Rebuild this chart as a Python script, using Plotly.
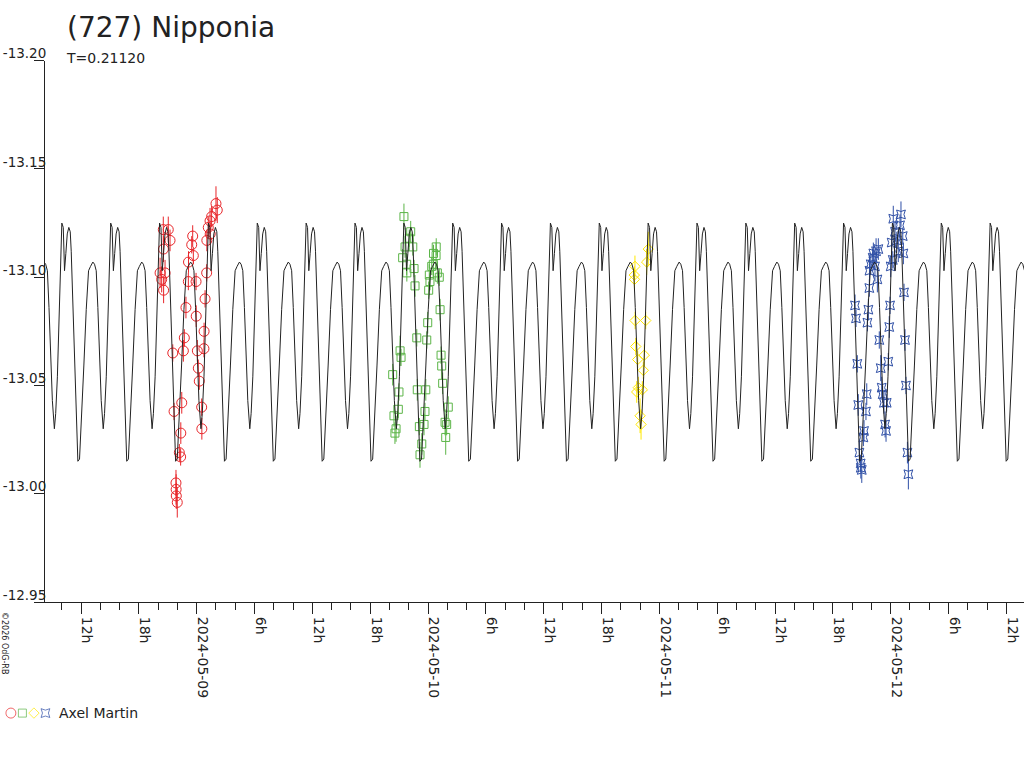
import numpy as np
import pandas as pd
import plotly.graph_objects as go

# --- model curve: one rotation cycle, repeated with period T ---
period_days = 0.21120
epoch = "2024-05-09 06:17"          # time of the main maximum of the curve
curve_phase = [0.000, 0.029, 0.055, 0.082, 0.111, 0.143, 0.172, 0.192, 0.225, 0.260,
               0.295, 0.328, 0.362, 0.397, 0.450, 0.499, 0.547, 0.587, 0.635, 0.669,
               0.704, 0.737, 0.772, 0.806, 0.847, 0.874, 0.909, 0.942, 0.976]
curve_mag = [-13.125, -13.123, -13.103, -13.111, -13.120, -13.123, -13.121, -13.112, -13.089, -13.059,
             -13.031, -13.015, -13.016, -13.031, -13.059, -13.085, -13.103, -13.105, -13.107, -13.106,
             -13.103, -13.086, -13.063, -13.043, -13.030, -13.037, -13.054, -13.077, -13.105]

# --- observations (Axel Martin), four nights ---
red_t = ["2024-05-08 20:32", "2024-05-08 21:03", "2024-05-08 21:14", "2024-05-08 20:33", "2024-05-08 20:12",
         "2024-05-08 20:43", "2024-05-08 20:22", "2024-05-08 20:34", "2024-05-08 21:31", "2024-05-08 21:39",
         "2024-05-08 22:12", "2024-05-08 22:20", "2024-05-08 21:51", "2024-05-08 21:52", "2024-05-08 21:53",
         "2024-05-08 21:59", "2024-05-08 22:21", "2024-05-08 22:27", "2024-05-08 22:37", "2024-05-08 22:43",
         "2024-05-08 22:53", "2024-05-08 23:08", "2024-05-08 23:09", "2024-05-08 23:29", "2024-05-08 23:35",
         "2024-05-08 23:56", "2024-05-08 23:57", "2024-05-09 00:04", "2024-05-09 00:10", "2024-05-09 00:16",
         "2024-05-09 00:31", "2024-05-09 00:32", "2024-05-09 00:45", "2024-05-09 00:46", "2024-05-09 00:52",
         "2024-05-09 01:02", "2024-05-09 01:03", "2024-05-09 01:12", "2024-05-09 01:23", "2024-05-09 01:33",
         "2024-05-09 02:00", "2024-05-09 02:08", "2024-05-09 01:24", "2024-05-08 23:39"]
red_mag = [-13.122, -13.122, -13.117, -13.113, -13.102, -13.102, -13.099, -13.094, -13.065, -13.038,
           -13.019, -13.017, -13.005, -13.002, -12.999, -12.996, -13.028, -13.042, -13.066, -13.072,
           -13.086, -13.098, -13.107, -13.115, -13.119, -13.098, -13.082, -13.066, -13.058, -13.052,
           -13.040, -13.030, -13.067, -13.075, -13.090, -13.102, -13.117, -13.123, -13.126, -13.128,
           -13.134, -13.131, -13.120, -13.110]
red_err = [0.006, 0.006, 0.005, 0.006, 0.007, 0.006, 0.006, 0.006, 0.004, 0.004,
           0.004, 0.004, 0.006, 0.007, 0.006, 0.007, 0.005, 0.005, 0.005, 0.004,
           0.005, 0.004, 0.005, 0.004, 0.005, 0.004, 0.005, 0.005, 0.004, 0.004,
           0.004, 0.005, 0.004, 0.004, 0.004, 0.004, 0.005, 0.005, 0.006, 0.005,
           0.008, 0.006, 0.005, 0.004]

green_t = ["2024-05-09 21:30", "2024-05-09 22:12", "2024-05-09 22:03", "2024-05-09 21:37", "2024-05-09 22:25",
           "2024-05-09 21:22", "2024-05-09 21:47", "2024-05-09 22:33", "2024-05-09 21:48", "2024-05-09 22:39",
           "2024-05-09 21:06", "2024-05-09 21:12", "2024-05-09 20:20", "2024-05-09 20:59", "2024-05-09 20:55",
           "2024-05-09 20:28", "2024-05-09 20:41", "2024-05-09 20:34", "2024-05-09 22:50", "2024-05-09 22:53",
           "2024-05-09 23:06", "2024-05-09 23:21", "2024-05-09 23:10", "2024-05-09 23:35", "2024-05-09 23:41",
           "2024-05-09 23:46", "2024-05-09 23:52", "2024-05-09 23:58", "2024-05-10 00:04", "2024-05-10 00:12",
           "2024-05-10 00:08", "2024-05-10 00:23", "2024-05-10 00:33", "2024-05-10 00:50", "2024-05-10 00:51",
           "2024-05-10 01:10", "2024-05-10 01:15", "2024-05-10 01:21", "2024-05-10 01:25", "2024-05-10 01:31",
           "2024-05-10 02:06", "2024-05-10 01:46", "2024-05-10 01:56", "2024-05-10 01:50", "2024-05-10 00:34",
           "2024-05-10 00:58"]
green_mag = [-13.128, -13.121, -13.118, -13.114, -13.114, -13.109, -13.106, -13.104, -13.102, -13.096,
             -13.066, -13.063, -13.055, -13.047, -13.039, -13.036, -13.030, -13.028, -13.072, -13.048,
             -13.031, -13.023, -13.018, -13.032, -13.038, -13.048, -13.071, -13.079, -13.094, -13.098,
             -13.101, -13.105, -13.106, -13.110, -13.114, -13.100, -13.085, -13.064, -13.059, -13.051,
             -13.040, -13.033, -13.032, -13.026, -13.111, -13.102]
green_err = [0.006, 0.005, 0.004, 0.005, 0.004, 0.004, 0.005, 0.004, 0.004, 0.005,
             0.007, 0.004, 0.005, 0.004, 0.004, 0.005, 0.006, 0.005, 0.004, 0.005,
             0.004, 0.005, 0.006, 0.005, 0.004, 0.005, 0.004, 0.005, 0.004, 0.004,
             0.005, 0.004, 0.005, 0.006, 0.004, 0.004, 0.005, 0.004, 0.006, 0.005,
             0.005, 0.006, 0.005, 0.008, 0.004, 0.005]

yellow_t = ["2024-05-10 21:28", "2024-05-10 21:24", "2024-05-10 21:25", "2024-05-10 22:51", "2024-05-10 22:41",
            "2024-05-10 21:29", "2024-05-10 22:35", "2024-05-10 21:33", "2024-05-10 22:26", "2024-05-10 21:45",
            "2024-05-10 22:20", "2024-05-10 21:49", "2024-05-10 22:14", "2024-05-10 21:39", "2024-05-10 22:00",
            "2024-05-10 22:06"]
yellow_mag = [-13.105, -13.101, -13.099, -13.113, -13.107, -13.080, -13.080, -13.068, -13.064, -13.062,
              -13.057, -13.049, -13.048, -13.047, -13.036, -13.032]
yellow_err = [0.005, 0.004, 0.005, 0.008, 0.006, 0.004, 0.004, 0.004, 0.005, 0.004,
              0.004, 0.005, 0.004, 0.005, 0.008, 0.007]

blue_t = ["2024-05-11 20:18", "2024-05-11 20:24", "2024-05-11 20:32", "2024-05-11 20:38", "2024-05-11 20:45",
          "2024-05-11 20:53", "2024-05-11 20:54", "2024-05-11 21:00", "2024-05-11 21:10", "2024-05-11 21:14",
          "2024-05-11 21:26", "2024-05-11 21:31", "2024-05-11 21:35", "2024-05-11 21:41", "2024-05-11 21:47",
          "2024-05-11 21:48", "2024-05-11 21:56", "2024-05-11 22:08", "2024-05-11 22:12", "2024-05-11 22:29",
          "2024-05-11 22:43", "2024-05-11 22:22", "2024-05-11 22:37", "2024-05-11 22:49", "2024-05-11 22:58",
          "2024-05-11 23:04", "2024-05-11 23:10", "2024-05-11 23:18", "2024-05-11 23:35", "2024-05-11 23:25",
          "2024-05-11 23:31", "2024-05-11 23:45", "2024-05-11 23:51", "2024-05-11 23:56", "2024-05-12 00:00",
          "2024-05-12 00:13", "2024-05-12 00:06", "2024-05-12 00:16", "2024-05-12 00:27", "2024-05-12 00:38",
          "2024-05-12 00:47", "2024-05-12 00:58", "2024-05-12 01:04", "2024-05-12 01:15", "2024-05-12 01:19",
          "2024-05-12 01:23", "2024-05-12 01:29", "2024-05-12 01:35", "2024-05-12 01:44", "2024-05-12 01:50"]
blue_mag = [-13.087, -13.081, -13.060, -13.041, -13.019, -13.014, -13.012, -13.011, -13.026, -13.029,
            -13.038, -13.046, -13.079, -13.085, -13.095, -13.103, -13.106, -13.109, -13.111, -13.112,
            -13.113, -13.105, -13.099, -13.071, -13.058, -13.049, -13.046, -13.042, -13.042, -13.032,
            -13.029, -13.061, -13.077, -13.087, -13.105, -13.108, -13.116, -13.127, -13.121, -13.117,
            -13.112, -13.124, -13.129, -13.119, -13.111, -13.093, -13.071, -13.050, -13.019, -13.009]
blue_err = [0.005, 0.004, 0.004, 0.005, 0.005, 0.004, 0.005, 0.006, 0.004, 0.005,
            0.004, 0.005, 0.004, 0.005, 0.004, 0.006, 0.005, 0.004, 0.005, 0.006,
            0.005, 0.007, 0.006, 0.004, 0.006, 0.005, 0.004, 0.005, 0.004, 0.006,
            0.005, 0.004, 0.005, 0.004, 0.005, 0.004, 0.005, 0.006, 0.005, 0.004,
            0.005, 0.005, 0.006, 0.004, 0.005, 0.004, 0.005, 0.004, 0.005, 0.007]

# --- axes ---
x_start, x_end = "2024-05-08 08:15:40", "2024-05-12 13:49:46"
tick_times = pd.date_range("2024-05-08 12:00", "2024-05-12 12:00", freq="6h")
tick_labels = ["12h", "18h", "2024-05-09", "6h", "12h", "18h", "2024-05-10", "6h", "12h",
               "18h", "2024-05-11", "6h", "12h", "18h", "2024-05-12", "6h", "12h"]
mag_ticks = [-13.20, -13.15, -13.10, -13.05, -13.00, -12.95]
mag_labels = ["-13.20", "-13.15", "-13.10", "-13.05", "-13.00", "-12.95"]

INK = "#222222"
FONT = "DejaVu Sans"

# build the model curve over the whole time range
cycles = np.arange(-5, 17)
frac = (cycles[:, None] + np.array(curve_phase)[None, :]).ravel()
curve_t = pd.Timestamp(epoch) + pd.to_timedelta(frac * period_days, unit="D")
curve_y = np.tile(curve_mag, len(cycles))

fig = go.Figure()

sessions = [
    (red_t, red_mag, red_err, "circle-open", 10, "#e8262a"),
    (green_t, green_mag, green_err, "square-open", 8, "#5cb548"),
    (yellow_t, yellow_mag, yellow_err, "diamond-open", 8, "#ffe800"),
    (blue_t, blue_mag, blue_err, "star-square-open", 8, "#2f4fa6"),
]
for t, m, e, sym, size, col in sessions:
    fig.add_trace(go.Scatter(
        x=pd.to_datetime(t), y=m, mode="markers",
        marker=dict(symbol=sym, size=size, color=col, line=dict(width=1, color=col)),
        error_y=dict(type="data", array=e, visible=True, color=col, thickness=1, width=0),
        hoverinfo="x+y",
    ))

fig.add_trace(go.Scatter(x=curve_t, y=curve_y, mode="lines",
                         line=dict(color=INK, width=1), hoverinfo="skip"))

# legend row: one symbol per session, then the observer name
fig.add_trace(go.Scatter(
    x=list(range(len(sessions))), y=[0] * len(sessions), mode="markers",
    marker=dict(symbol=[s[3] for s in sessions], size=[s[4] for s in sessions],
                color=[s[5] for s in sessions], line=dict(width=1, color=[s[5] for s in sessions])),
    xaxis="x2", yaxis="y2", hoverinfo="skip",
))

fig.update_layout(
    width=1024, height=768,
    margin=dict(l=0, r=0, t=0, b=0, autoexpand=False),
    paper_bgcolor="white", plot_bgcolor="white",
    showlegend=False,
    font=dict(family=FONT, size=14, color=INK),
    xaxis=dict(
        type="date", domain=[45 / 1024, 1], range=[x_start, x_end], automargin=False,
        tickmode="array", tickvals=tick_times, ticktext=tick_labels, tickangle=90,
        ticks="outside", ticklen=11, tickcolor=INK, ticklabelshift=6,
        showline=True, linecolor=INK, showgrid=False, zeroline=False,
        tickfont=dict(family=FONT, size=14, color=INK),
        minor=dict(dtick=2 * 3600 * 1000, tick0="2024-05-09", ticks="outside",
                   ticklen=7, tickcolor=INK, showgrid=False),
    ),
    yaxis=dict(
        domain=[166 / 768, 707.3 / 768], range=[-12.95, -13.20], automargin=False,
        tickmode="array", tickvals=mag_ticks, ticktext=mag_labels,
        ticks="outside", ticklen=10, tickcolor=INK,
        ticklabelstandoff=-15, ticklabelshift=7,
        showline=True, linecolor=INK, showgrid=False, zeroline=False,
        tickfont=dict(family=FONT, size=13.5, color=INK),
    ),
    xaxis2=dict(domain=[0.005, 0.05], range=[-0.5, 3.5], visible=False, anchor="y2", automargin=False),
    yaxis2=dict(domain=[0.06, 0.083], range=[-1, 1], visible=False, anchor="x2", automargin=False),
    annotations=[
        dict(text="(727) Nipponia", x=65 / 1024, y=1 - 27 / 768, xref="paper", yref="paper",
             xanchor="left", yanchor="middle", showarrow=False, font=dict(size=28, family=FONT, color=INK)),
        dict(text="T=%.5f" % period_days, x=64 / 1024, y=1 - 58 / 768, xref="paper", yref="paper",
             xanchor="left", yanchor="middle", showarrow=False, font=dict(size=14, family=FONT, color=INK)),
        dict(text="Axel Martin", x=57 / 1024, y=1 - 713 / 768, xref="paper", yref="paper",
             xanchor="left", yanchor="middle", showarrow=False, font=dict(size=14, family=FONT, color=INK)),
        dict(text="©2026 OdG-RB", x=5 / 1024, y=1 - 643 / 768, xref="paper", yref="paper",
             xanchor="center", yanchor="middle", textangle=90, showarrow=False,
             font=dict(size=8, family=FONT, color=INK)),
    ],
)

# the page's default body margin would shift the 1024x768 figure inside the window
fig.write_html("out.html", config={"displayModeBar": False},
               post_script="document.body.style.margin = '0';")
